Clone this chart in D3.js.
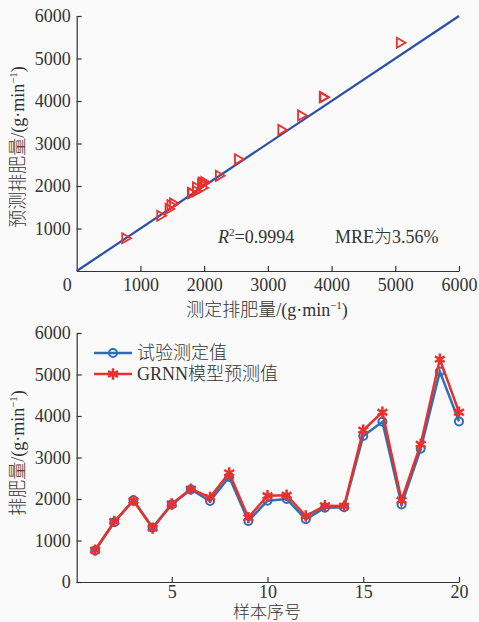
<!DOCTYPE html>
<html><head><meta charset="utf-8">
<script src="https://cdn.jsdelivr.net/npm/d3@7"></script>
<style>
body{margin:0;background:#fafafa;}
svg{display:block;}
text{font-family:"Liberation Serif","Noto Sans CJK SC",serif;fill:#333;font-weight:300;}
</style></head><body>
<script>
// sample index
const samples = d3.range(1, 21);
// 试验测定值 (measured)
const measured = [760,1440,1970,1310,1870,2230,1950,2530,1470,1960,2000,1510,1790,1800,3520,3860,1870,3210,5070,3870];
// GRNN模型预测值 (predicted)
const predicted = [770,1460,1960,1300,1880,2240,2040,2630,1550,2080,2090,1590,1840,1830,3660,4090,1970,3320,5370,4090];
const valueTicks = [0,1000,2000,3000,4000,5000,6000];
const indexTicks = [5,10,15,20];
const annotR2 = "0.9994";
const annotMRE = "MRE为3.56%";

const W = 479, H = 622;
const svg = d3.select("body").append("svg").attr("width", W).attr("height", H);
svg.append("rect").attr("width", W).attr("height", H).attr("fill", "#fafafa");

const axisColor = "#333";
const red = "#e8302e", blueTop = "#2b50a3", blue = "#2a6fb7";
const fs = 18;

function styleAxis(g){
  g.select(".domain").attr("stroke", axisColor).attr("stroke-width", 1.2);
  g.selectAll(".tick line").attr("stroke", axisColor).attr("stroke-width", 1.2);
  g.selectAll(".tick text").attr("font-size", fs).attr("fill", "#333")
   .attr("font-family", '"Liberation Serif",serif');
}
function unitLabel(t, prefix){
  t.append("tspan").text(prefix + "/(g·min");
  t.append("tspan").attr("font-size", 11).attr("dy", -7).text("−1");
  t.append("tspan").attr("dy", 7).text(")");
}

// ---------- Top chart: scatter ----------
const x1 = d3.scaleLinear().domain([0, 6000]).range([76.7, 459]);
const y1 = d3.scaleLinear().domain([0, 6000]).range([271, 16]);

const gx1 = svg.append("g").attr("transform", `translate(0,${y1(0)})`)
  .call(d3.axisBottom(x1).tickValues(valueTicks).tickFormat(d3.format("d")).tickSizeInner(-5).tickSizeOuter(0).tickPadding(7));
styleAxis(gx1);
gx1.selectAll(".tick").filter(d => d === 0).select("text").attr("dx", -10);
gx1.selectAll(".tick").filter(d => d === 0).select("line").remove();

const gy1 = svg.append("g").attr("transform", `translate(${x1(0)},0)`)
  .call(d3.axisLeft(y1).tickValues(valueTicks.filter(d => d > 0)).tickFormat(d3.format("d")).tickSizeInner(-5).tickSizeOuter(0).tickPadding(6));
styleAxis(gy1);

// 1:1 line
svg.append("line")
  .attr("x1", x1(0)).attr("y1", y1(0)).attr("x2", x1(6000)).attr("y2", y1(6000))
  .attr("stroke", blueTop).attr("stroke-width", 2.2);

const tri = d3.symbol().type(d3.symbolTriangle).size(44);
svg.append("g").selectAll("path").data(samples.map((s, i) => [measured[i], predicted[i]]))
  .join("path")
  .attr("d", tri)
  .attr("transform", d => `translate(${x1(d[0])},${y1(d[1])}) rotate(90)`)
  .attr("fill", "none").attr("stroke", red).attr("stroke-width", 1.8);

const r2 = svg.append("text").attr("x", 218).attr("y", 243).attr("font-size", fs);
r2.append("tspan").attr("font-style", "italic").text("R");
r2.append("tspan").attr("font-size", 11).attr("dy", -7).text("2");
r2.append("tspan").attr("dy", 7).text("=" + annotR2);
svg.append("text").attr("x", 335).attr("y", 243).attr("font-size", fs).text(annotMRE);

const xt1 = svg.append("text").attr("x", 267).attr("y", 316).attr("text-anchor", "middle").attr("font-size", fs);
unitLabel(xt1, "测定排肥量");
const yt1 = svg.append("text").attr("transform", "translate(24,147) rotate(-90)").attr("text-anchor", "middle").attr("font-size", fs);
unitLabel(yt1, "预测排肥量");

// ---------- Bottom chart: line ----------
const x2 = d3.scaleLinear().domain([0, 20]).range([76, 459]);
const y2 = d3.scaleLinear().domain([0, 6000]).range([582, 333]);

const gx2 = svg.append("g").attr("transform", `translate(0,${y2(0)})`)
  .call(d3.axisBottom(x2).tickValues(indexTicks).tickSizeInner(-5).tickSizeOuter(0).tickPadding(3));
styleAxis(gx2);
const gy2 = svg.append("g").attr("transform", `translate(${x2(0) + 0.7},0)`)
  .call(d3.axisLeft(y2).tickValues(valueTicks).tickFormat(d3.format("d")).tickSizeInner(-5).tickSizeOuter(0).tickPadding(6));
styleAxis(gy2);

const line = d3.line().x((d, i) => x2(samples[i])).y(d => y2(d));
svg.append("path").datum(measured).attr("d", line).attr("fill", "none").attr("stroke", blue).attr("stroke-width", 2.5);
svg.append("g").selectAll("circle").data(measured).join("circle")
  .attr("cx", (d, i) => x2(samples[i])).attr("cy", d => y2(d)).attr("r", 4)
  .attr("fill", "none").attr("stroke", blue).attr("stroke-width", 2);

svg.append("path").datum(predicted).attr("d", line).attr("fill", "none").attr("stroke", red).attr("stroke-width", 2.5);
const ast = d3.symbol().type(d3.symbolAsterisk).size(90);
svg.append("g").selectAll("path").data(predicted).join("path")
  .attr("d", ast).attr("transform", (d, i) => `translate(${x2(samples[i])},${y2(d)})`)
  .attr("fill", "none").attr("stroke", red).attr("stroke-width", 2.5);

// legend
const leg = svg.append("g");
const legItems = [
  {label: "试验测定值", color: blue, type: "circle", y: 353},
  {label: "GRNN模型预测值", color: red, type: "ast", y: 374}
];
legItems.forEach(it => {
  leg.append("line").attr("x1", 94).attr("x2", 132).attr("y1", it.y).attr("y2", it.y)
    .attr("stroke", it.color).attr("stroke-width", 2.5);
  if (it.type === "circle") {
    leg.append("circle").attr("cx", 113).attr("cy", it.y).attr("r", 4)
      .attr("fill", "none").attr("stroke", it.color).attr("stroke-width", 2);
  } else {
    leg.append("path").attr("d", ast).attr("transform", `translate(113,${it.y})`)
      .attr("fill", "none").attr("stroke", it.color).attr("stroke-width", 2.5);
  }
  leg.append("text").attr("x", 137).attr("y", it.y).attr("dy", "0.35em").attr("font-size", fs).text(it.label);
});

svg.append("text").attr("x", 267).attr("y", 618).attr("text-anchor", "middle").attr("font-size", 17).text("样本序号");
const yt2 = svg.append("text").attr("transform", "translate(24,453) rotate(-90)").attr("text-anchor", "middle").attr("font-size", fs);
unitLabel(yt2, "排肥量");
</script>
</body></html>
